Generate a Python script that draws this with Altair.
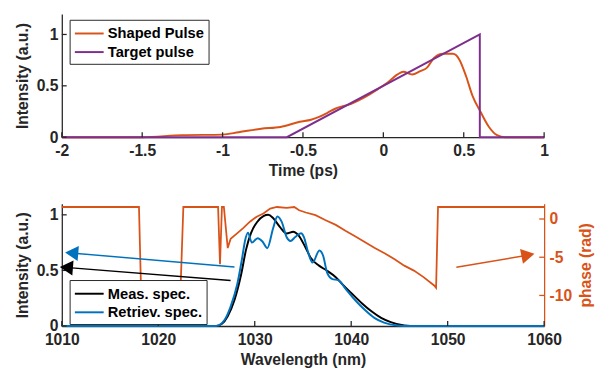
import altair as alt
import pandas as pd

# ---------------- top panel data (time domain) ----------------
t_shaped = [-2.0, -1.5, -1.25, -1.0, -0.9, -0.76, -0.64, -0.52, -0.45, -0.40, -0.35, -0.30,
            -0.20, -0.115, -0.034, 0.027, 0.088, 0.124, 0.179, 0.229, 0.27, 0.315, 0.372,
            0.433, 0.473, 0.514, 0.554, 0.605, 0.656, 0.707, 0.757, 1.0]
v_shaped = [0.0, 0.0, 0.02, 0.025, 0.048, 0.083, 0.10, 0.15, 0.17, 0.197, 0.235, 0.277,
            0.325, 0.389, 0.468, 0.532, 0.611, 0.637, 0.611, 0.643, 0.675, 0.771, 0.812,
            0.812, 0.755, 0.596, 0.405, 0.245, 0.102, 0.02, 0.0, 0.0]
t_target = [-2.0, -0.6, 0.6, 0.6, 1.0]
v_target = [0.0, 0.0, 1.0, 0.0, 0.0]
time_ticks = [-2, -1.5, -1, -0.5, 0, 0.5, 1]
int_ticks = [0, 0.5, 1]

# ---------------- bottom panel data (spectral domain) ----------------
wl_meas = [1010, 1026.0, 1026.6, 1027.2, 1027.9, 1028.6, 1029.1, 1029.6, 1030.25, 1030.9,
           1031.4, 1031.9, 1032.6, 1033.3, 1034.0, 1034.5, 1035.2, 1035.8, 1036.7, 1037.5,
           1038.4, 1039.2, 1040.05, 1041.1, 1042.1, 1043.1, 1044.1, 1045.5, 1046.8, 1060]
int_meas = [0, 0, 0.02, 0.088, 0.234, 0.468, 0.687, 0.833, 0.936, 0.988,
            1.0, 0.971, 0.892, 0.833, 0.848, 0.819, 0.717, 0.614, 0.541, 0.497,
            0.439, 0.366, 0.293, 0.205, 0.132, 0.073, 0.035, 0.005, 0, 0]
wl_retr = [1010, 1026.0, 1026.9, 1027.5, 1028.2, 1028.7, 1029.0, 1029.3, 1029.7, 1030.3,
           1030.8, 1031.3, 1031.9, 1032.35, 1032.8, 1033.3, 1033.7, 1034.2, 1034.8, 1035.1,
           1035.5, 1036.0, 1036.7, 1037.1, 1037.5, 1038.0, 1038.7, 1039.4, 1040.4, 1041.4,
           1042.4, 1043.4, 1044.8, 1046.1, 1060]
int_retr = [0, 0, 0.059, 0.175, 0.38, 0.614, 0.77, 0.84, 0.75, 0.79,
            0.76, 0.70, 0.877, 0.985, 0.936, 0.80, 0.765, 0.80, 0.835, 0.80,
            0.673, 0.57, 0.68, 0.63, 0.48, 0.424, 0.41, 0.337, 0.234, 0.146,
            0.073, 0.03, 0.005, 0, 0]
wl_phase = [1010, 1018.0, 1018.3, 1020.0, 1022.2, 1022.6, 1026.2, 1026.4, 1026.6, 1026.8,
            1027.2, 1027.5, 1028.2, 1028.8, 1029.5, 1030.2, 1030.9, 1031.6, 1032.3, 1033.3,
            1034.1, 1034.6, 1035.3, 1036.3, 1037.3, 1038.4, 1039.4, 1040.4, 1041.4, 1042.4,
            1043.5, 1044.5, 1045.5, 1046.5, 1047.5, 1048.6, 1048.8, 1049.0, 1060]
phase = [1.57, 1.57, -13.6, -13.4, -13.1, 1.57, 1.57, -5.9, 1.57, 1.57,
         -3.8, -2.6, -1.85, -1.2, -0.35, 0.3, 0.72, 1.36, 1.57, 1.45,
         1.57, 1.15, 0.85, 0.5, -0.13, -0.77, -1.54, -2.27, -3.0, -3.77,
         -4.5, -5.26, -6.1, -6.75, -7.6, -8.7, -9.0, 1.57, 1.57]
wl_ticks = [1010, 1020, 1030, 1040, 1050, 1060]
phase_ticks = [-10, -5, 0]

# annotation arrows (data units): tail -> head centre, head rotation (deg)
arrow_x0 = [1027.9, 1027.5]
arrow_y0 = [0.53, 0.41]
arrow_x1 = [1011.25, 1010.7]
arrow_y1 = [0.655, 0.525]
arrow_ang = [274.7, 274.6]
arrow_col = ["#0072BD", "#000000"]
parrow_x0 = [1050.9]
parrow_y0 = [-6.3]
parrow_x1 = [1058.1]
parrow_y1 = [-4.78]
parrow_ang = [78.8]

ORANGE = "#D95319"
PURPLE = "#7E2F8E"
BLUE = "#0072BD"
BLACK = "#000000"
AX = "#262626"
FONT = "Liberation Sans"

W = 493
H_TOP = 126
H_BOT = 125
TICK_PX = 5

T_DOM = [-2, 1]
VT_DOM = [0, 1.2]
WL_DOM = [1010, 1060]
VB_DOM = [0, 1.1]
P_DOM = [-14, 2]

minus_expr = "datum.value < 0 ? '-' + format(-datum.value, '~g') : format(datum.value, '~g')"

# ---------------- top panel ----------------
x_t = alt.X("t:Q", scale=alt.Scale(domain=T_DOM, nice=False, zero=False),
            axis=alt.Axis(title="Time (ps)", values=time_ticks, labelExpr=minus_expr,
                          labelPadding=6, titlePadding=4))
y_t = alt.Y("v:Q", scale=alt.Scale(domain=VT_DOM, nice=False, zero=False),
            axis=alt.Axis(title="Intensity (a.u.)", values=int_ticks, labelExpr=minus_expr,
                          labelPadding=4, titlePadding=6))

top_legend = alt.Legend(title=None, orient="none", legendX=8, legendY=6)
top_scale = alt.Scale(domain=["Shaped Pulse", "Target pulse"], range=[ORANGE, PURPLE])

df_shaped = pd.DataFrame({"t": t_shaped, "v": v_shaped, "s": "Shaped Pulse"})
df_target = pd.DataFrame({"t": t_target, "v": v_target, "s": "Target pulse"})

shaped = alt.Chart(df_shaped).mark_line(strokeWidth=2, interpolate="monotone").encode(
    x=x_t, y=y_t, color=alt.Color("s:N", scale=top_scale, legend=top_legend))
target = alt.Chart(df_target).mark_line(strokeWidth=2).encode(
    x=x_t, y=y_t, color=alt.Color("s:N", scale=top_scale, legend=top_legend))

dv_t = TICK_PX * (VT_DOM[1] - VT_DOM[0]) / H_TOP
dt_t = TICK_PX * (T_DOM[1] - T_DOM[0]) / W
df_xt = pd.DataFrame({"t": time_ticks, "v": [VT_DOM[0]] * len(time_ticks),
                      "v2": [VT_DOM[0] + dv_t] * len(time_ticks)})
df_yt = pd.DataFrame({"t": [T_DOM[0]] * len(int_ticks), "t2": [T_DOM[0] + dt_t] * len(int_ticks),
                      "v": int_ticks})
xt_rules = alt.Chart(df_xt).mark_rule(color=AX, strokeWidth=1.3).encode(x=x_t, y=y_t, y2="v2:Q")
yt_rules = alt.Chart(df_yt).mark_rule(color=AX, strokeWidth=1.3).encode(x=x_t, x2="t2:Q", y=y_t)

top = alt.layer(shaped, target, xt_rules, yt_rules).properties(width=W, height=H_TOP)

# ---------------- bottom panel ----------------
x_w = alt.X("w:Q", scale=alt.Scale(domain=WL_DOM, nice=False, zero=False),
            axis=alt.Axis(title="Wavelength (nm)", values=wl_ticks, labelExpr=minus_expr,
                          labelPadding=6, titlePadding=4))
y_i = alt.Y("v:Q", scale=alt.Scale(domain=VB_DOM, nice=False, zero=False),
            axis=alt.Axis(title="Intensity (a.u.)", values=int_ticks, labelExpr=minus_expr,
                          labelPadding=4, titlePadding=6))
y_p = alt.Y("p:Q", scale=alt.Scale(domain=P_DOM, nice=False, zero=False),
            axis=alt.Axis(title="phase (rad)", orient="right", values=phase_ticks,
                          labelExpr=minus_expr, labelColor=ORANGE, titleColor=ORANGE,
                          domainColor=ORANGE, labelPadding=5, titlePadding=6,
                          titleAngle=270, titleBaseline="top"))

bot_legend = alt.Legend(title=None, orient="none", legendX=8, legendY=78)
bot_scale = alt.Scale(domain=["Meas. spec.", "Retriev. spec."], range=[BLACK, BLUE])

df_meas = pd.DataFrame({"w": wl_meas, "v": int_meas, "s": "Meas. spec."})
df_retr = pd.DataFrame({"w": wl_retr, "v": int_retr, "s": "Retriev. spec."})
df_phase = pd.DataFrame({"w": wl_phase, "p": phase})

meas = alt.Chart(df_meas).mark_line(strokeWidth=2, interpolate="monotone").encode(
    x=x_w, y=y_i, color=alt.Color("s:N", scale=bot_scale, legend=bot_legend))
retr = alt.Chart(df_retr).mark_line(strokeWidth=2, interpolate="monotone").encode(
    x=x_w, y=y_i, color=alt.Color("s:N", scale=bot_scale, legend=bot_legend))

dv_b = TICK_PX * (VB_DOM[1] - VB_DOM[0]) / H_BOT
dw_b = TICK_PX * (WL_DOM[1] - WL_DOM[0]) / W
df_xb = pd.DataFrame({"w": wl_ticks, "v": [VB_DOM[0]] * len(wl_ticks),
                      "v2": [VB_DOM[0] + dv_b] * len(wl_ticks)})
df_yb = pd.DataFrame({"w": [WL_DOM[0]] * len(int_ticks), "w2": [WL_DOM[0] + dw_b] * len(int_ticks),
                      "v": int_ticks})
xb_rules = alt.Chart(df_xb).mark_rule(color=AX, strokeWidth=1.3).encode(x=x_w, y=y_i, y2="v2:Q")
yb_rules = alt.Chart(df_yb).mark_rule(color=AX, strokeWidth=1.3).encode(x=x_w, x2="w2:Q", y=y_i)

df_arr = pd.DataFrame({"w": arrow_x0, "v": arrow_y0, "w2": arrow_x1, "v2": arrow_y1,
                       "c": arrow_col})
df_head = pd.DataFrame({"w": arrow_x1, "v": arrow_y1, "ang": arrow_ang, "c": arrow_col})
arr_lines = alt.Chart(df_arr).mark_rule(strokeWidth=1.5).encode(
    x=x_w, y=y_i, x2="w2:Q", y2="v2:Q", color=alt.Color("c:N", scale=None))
arr_heads = alt.Chart(df_head).mark_point(shape="triangle", filled=True, size=240, opacity=1).encode(
    x=x_w, y=y_i, angle=alt.Angle("ang:Q", scale=None), color=alt.Color("c:N", scale=None))

left_layer = alt.layer(meas, retr, xb_rules, yb_rules, arr_lines, arr_heads)

df_pt = pd.DataFrame({"w": [WL_DOM[1] - dw_b] * len(phase_ticks),
                      "w2": [WL_DOM[1]] * len(phase_ticks), "p": phase_ticks})
phase_line = alt.Chart(df_phase).mark_line(strokeWidth=1.8, color=ORANGE).encode(x=x_w, y=y_p)
pt_rules = alt.Chart(df_pt).mark_rule(color=ORANGE, strokeWidth=1.3).encode(x=x_w, x2="w2:Q", y=y_p)
df_parr = pd.DataFrame({"w": parrow_x0, "p": parrow_y0, "w2": parrow_x1, "p2": parrow_y1})
df_phead = pd.DataFrame({"w": parrow_x1, "p": parrow_y1, "ang": parrow_ang})
parr_line = alt.Chart(df_parr).mark_rule(strokeWidth=1.5, color=ORANGE).encode(
    x=x_w, y=y_p, x2="w2:Q", y2="p2:Q")
parr_head = alt.Chart(df_phead).mark_point(shape="triangle", filled=True, size=240, opacity=1,
                                           color=ORANGE).encode(
    x=x_w, y=y_p, angle=alt.Angle("ang:Q", scale=None))

right_layer = alt.layer(phase_line, pt_rules, parr_line, parr_head)

bottom = alt.layer(right_layer, left_layer).resolve_scale(y="independent").properties(
    width=W, height=H_BOT)

chart = alt.vconcat(top, bottom, spacing=24).resolve_scale(color="independent").properties(
    padding={"left": 6, "top": 1, "right": 1, "bottom": 2}
).configure_view(stroke="transparent").configure_axis(
    labelFont=FONT, labelFontSize=16, labelFontWeight="bold", labelColor=AX,
    titleFont=FONT, titleFontSize=16, titleFontWeight="bold", titleColor=AX,
    domainColor=AX, domainWidth=1.3, ticks=False, grid=False, labelFlush=False,
    labelOverlap=False
).configure_legend(
    labelFont=FONT, labelFontSize=15, labelFontWeight="bold", labelColor="#000000",
    strokeColor=AX, fillColor="white", padding=4, rowPadding=1,
    symbolType="M-1,0H2.4", symbolSize=300, symbolStrokeWidth=2, labelOffset=15
)

chart.save("out.html", embed_options={"renderer": "svg", "actions": False})
